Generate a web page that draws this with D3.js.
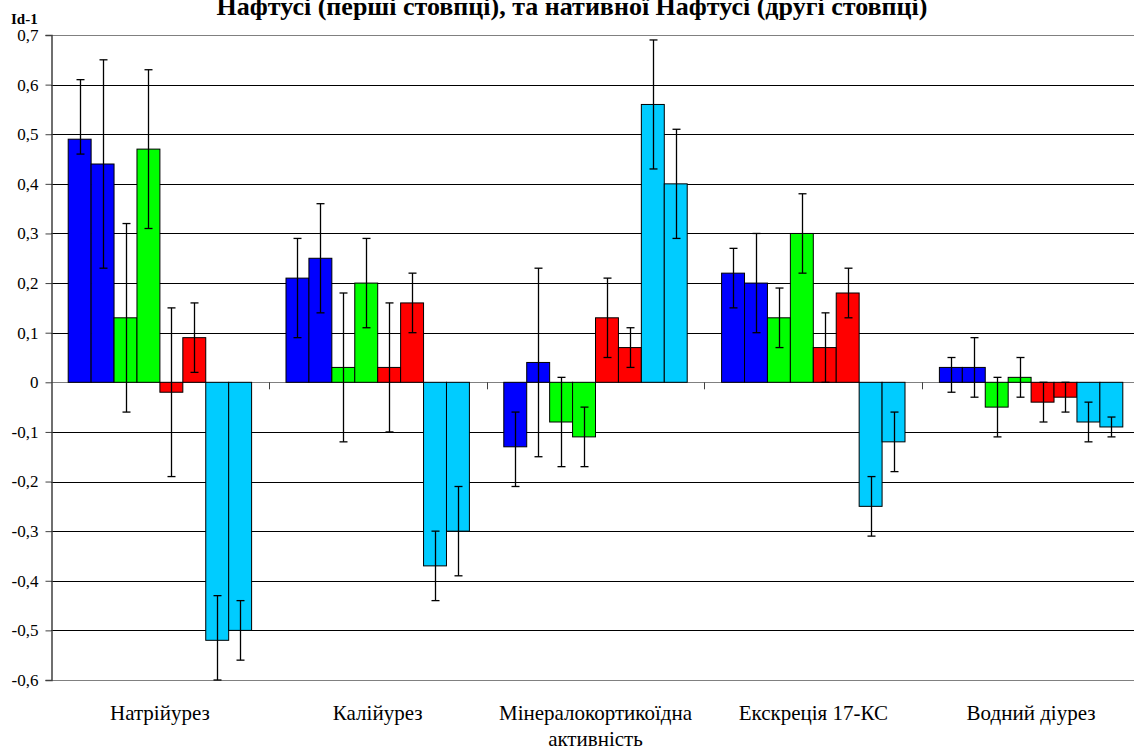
<!DOCTYPE html>
<html>
<head>
<meta charset="utf-8">
<script src="https://cdn.jsdelivr.net/npm/d3@7"></script>
<style>
  body { margin: 0; background: #fff; }
  svg text { font-family: 'Liberation Serif', 'DejaVu Serif', serif !important; fill: #000; }
</style>
</head>
<body>
<div id="chart"></div>
<script>
// categories on the x axis (second line after "|")
const categories = ["Натрійурез", "Калійурез", "Мінералокортикоїдна|активність", "Екскреція 17-КС", "Водний діурез"];

// 8 columns per category: pairs of blue, green, red, light blue
const series = ["s1", "s2", "s3", "s4", "s5", "s6", "s7", "s8"];
const colors = ["#0000ff", "#0000ff", "#00ff00", "#00ff00", "#ff0000", "#ff0000", "#00ccff", "#00ccff"];

// bar values, one row per series
const values = [
  [0.49, 0.21, -0.13, 0.22, 0.03],
  [0.44, 0.25, 0.04, 0.20, 0.03],
  [0.13, 0.03, -0.08, 0.13, -0.05],
  [0.47, 0.20, -0.11, 0.30, 0.01],
  [-0.02, 0.03, 0.13, 0.07, -0.04],
  [0.09, 0.16, 0.07, 0.18, -0.03],
  [-0.52, -0.37, 0.56, -0.25, -0.08],
  [-0.50, -0.30, 0.40, -0.12, -0.09]
];

// error bar ends
const errHigh = [
  [0.61, 0.29, -0.06, 0.27, 0.05],
  [0.65, 0.36, 0.23, 0.30, 0.09],
  [0.32, 0.18, 0.01, 0.19, 0.01],
  [0.63, 0.29, -0.05, 0.38, 0.05],
  [0.15, 0.16, 0.21, 0.14, 0.00],
  [0.16, 0.22, 0.11, 0.23, 0.00],
  [-0.43, -0.30, 0.69, -0.19, -0.04],
  [-0.44, -0.21, 0.51, -0.06, -0.07]
];
const errLow = [
  [0.46, 0.09, -0.21, 0.15, -0.02],
  [0.23, 0.14, -0.15, 0.10, -0.03],
  [-0.06, -0.12, -0.17, 0.07, -0.11],
  [0.31, 0.11, -0.17, 0.22, -0.03],
  [-0.19, -0.10, 0.05, 0.00, -0.08],
  [0.02, 0.10, 0.03, 0.13, -0.06],
  [-0.60, -0.44, 0.43, -0.31, -0.12],
  [-0.56, -0.39, 0.29, -0.18, -0.11]
];

const yTicks = [-0.6, -0.5, -0.4, -0.3, -0.2, -0.1, 0, 0.1, 0.2, 0.3, 0.4, 0.5, 0.6, 0.7];

const title = "Нафтусі (перші стовпці), та нативної Нафтусі (другі стовпці)";
const yLabel = "Id-1";

const W = 1134, H = 754;
const margin = {top: 35, right: -6, bottom: 74, left: 51};
const serif = "'Liberation Serif', 'DejaVu Serif', serif";

const svg = d3.select("#chart").append("svg")
    .attr("width", W)
    .attr("height", H)
    .style("font-family", serif);

const x0 = d3.scaleBand()
    .domain(categories)
    .range([margin.left, W - margin.right]);

const x1 = d3.scaleBand()
    .domain(series)
    .range([0, x0.bandwidth()])
    .paddingInner(0)
    .paddingOuter(0.75);

const y = d3.scaleLinear()
    .domain([-0.6, 0.7])
    .range([H - margin.bottom, margin.top]);

// gridlines
svg.append("g")
  .selectAll("line")
  .data(yTicks)
  .join("line")
    .attr("x1", margin.left)
    .attr("x2", W - margin.right)
    .attr("y1", d => Math.round(y(d)) + 0.5)
    .attr("y2", d => Math.round(y(d)) + 0.5)
    .attr("stroke", d => (d === 0 || d === 0.7 || d === -0.6) ? "#808080" : "#000")
    .attr("stroke-width", 1);

// y axis
const yAxis = svg.append("g")
    .attr("transform", `translate(${margin.left + 0.5},0)`)
    .call(d3.axisLeft(y)
      .tickValues(yTicks)
      .tickSize(6)
      .tickPadding(7)
      .tickFormat(d => d === 0 ? "0" : d3.format(".1f")(d).replace(".", ",").replace("−", "-")));
yAxis.attr("font-family", serif).attr("font-size", 17);
yAxis.select(".domain").attr("stroke", "#404040").attr("stroke-width", 1.5);
yAxis.selectAll(".tick line").attr("stroke", "#404040");
yAxis.selectAll(".tick text")
    .attr("font-family", serif)
    .style("font-size", "17px")
    .attr("fill", "#000");

// category tick marks on the zero line
svg.append("g")
  .selectAll("line")
  .data(categories.slice(1))
  .join("line")
    .attr("x1", d => Math.round(x0(d)) + 0.5)
    .attr("x2", d => Math.round(x0(d)) + 0.5)
    .attr("y1", y(0))
    .attr("y2", y(0) + 7)
    .attr("stroke", "#404040");

// flatten data
const bars = [];
series.forEach((s, i) => {
  categories.forEach((c, j) => {
    bars.push({s: s, c: c, i: i, v: values[i][j], lo: errLow[i][j], hi: errHigh[i][j]});
  });
});

svg.append("g")
  .selectAll("rect")
  .data(bars)
  .join("rect")
    .attr("x", d => x0(d.c) + x1(d.s))
    .attr("width", x1.bandwidth())
    .attr("y", d => y(Math.max(0, d.v)))
    .attr("height", d => Math.abs(y(d.v) - y(0)))
    .attr("fill", d => colors[d.i])
    .attr("stroke", "#000")
    .attr("stroke-width", 1);

// error bars
const eb = svg.append("g")
  .selectAll("g")
  .data(bars)
  .join("g")
    .attr("transform", d => `translate(${Math.round(x0(d.c) + x1(d.s) + x1.bandwidth() / 2) + 0.5},0)`)
    .attr("stroke", "#000")
    .attr("stroke-width", 1.3);
eb.append("line")
    .attr("y1", d => y(d.lo))
    .attr("y2", d => y(d.hi));
eb.append("line")
    .attr("x1", -4).attr("x2", 4)
    .attr("y1", d => y(d.hi)).attr("y2", d => y(d.hi));
eb.append("line")
    .attr("x1", -4).attr("x2", 4)
    .attr("y1", d => y(d.lo)).attr("y2", d => y(d.lo));

// x labels
const xl = svg.append("g")
  .selectAll("text")
  .data(categories)
  .join("text")
    .attr("x", d => x0(d) + x0.bandwidth() / 2)
    .attr("y", 720)
    .attr("text-anchor", "middle")
    .attr("font-family", serif)
    .style("font-size", "21px");
xl.selectAll("tspan")
  .data(d => d.split("|"))
  .join("tspan")
    .attr("x", function() { return d3.select(this.parentNode).attr("x"); })
    .attr("dy", (d, i) => i === 0 ? 0 : 26)
    .text(d => d);

// title (its top is cut by the frame, as in the original)
svg.append("text")
    .attr("x", 572)
    .attr("y", 15)
    .attr("text-anchor", "middle")
    .attr("font-family", serif)
    .style("font-size", "26px")
    .style("font-weight", "bold")
    .text(title);

// y axis label
svg.append("text")
    .attr("x", 11)
    .attr("y", 24)
    .attr("font-family", serif)
    .style("font-size", "15px")
    .style("font-weight", "bold")
    .text(yLabel);
</script>
</body>
</html>
